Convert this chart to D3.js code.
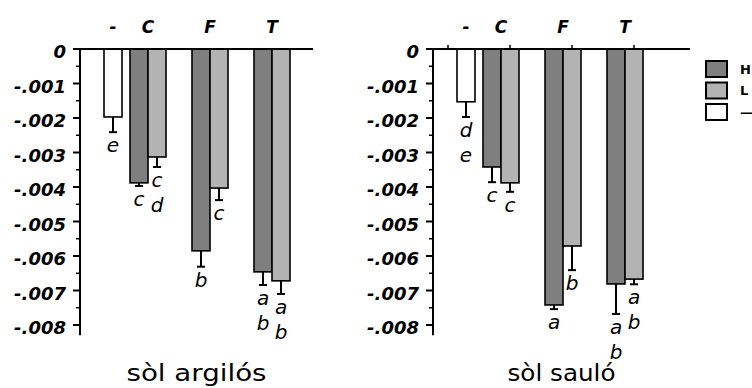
<!DOCTYPE html>
<html>
<head>
<meta charset="utf-8">
<script src="https://cdn.jsdelivr.net/npm/d3@7"></script>
<style>
  body { margin: 0; background: #fff; }
  svg { display: block; }
</style>
</head>
<body>
<svg id="chart" width="752" height="388"></svg>
<script>
// data
const categories = ["-", "C", "F", "T"];
const seriesNames = ["H", "L", "—"];
const soils = ["sòl argilós", "sòl sauló"];

const yTicks = [0, -0.001, -0.002, -0.003, -0.004, -0.005, -0.006, -0.007, -0.008];
const yTickLabels = ["0", "-.001", "-.002", "-.003", "-.004", "-.005", "-.006", "-.007", "-.008"];

// sòl argilós
const clayH = [null, -0.00388, -0.00585, -0.00646];
const clayL = [null, -0.00313, -0.00403, -0.00672];
const clayNone = [-0.00197, null, null, null];
const clayHErr = [null, 0.00009, 0.00046, 0.00038];
const clayLErr = [null, 0.00029, 0.00035, 0.00038];
const clayNoneErr = [0.00044, null, null, null];
const clayHLetters = [null, ["c"], ["b"], ["a", "b"]];
const clayLLetters = [null, ["c", "d"], ["c"], ["a", "b"]];
const clayNoneLetters = [["e"], null, null, null];

// sòl sauló
const sandH = [null, -0.00342, -0.00742, -0.00681];
const sandL = [null, -0.00388, -0.00571, -0.00667];
const sandNone = [-0.00153, null, null, null];
const sandHErr = [null, 0.00044, 0.00012, 0.00087];
const sandLErr = [null, 0.00026, 0.00070, 0.00015];
const sandNoneErr = [0.00044, null, null, null];
const sandHLetters = [null, ["c"], ["a"], ["a", "b"]];
const sandLLetters = [null, ["c"], ["b"], ["a", "b"]];
const sandNoneLetters = [["d", "e"], null, null, null];

const colors = { "H": "#7f7f7f", "L": "#b3b3b3", "—": "#ffffff" };
const font = "'DejaVu Sans', Verdana, sans-serif";

function buildRows(values, errs, letters) {
  const rows = [];
  seriesNames.forEach((s, si) => {
    categories.forEach((c, ci) => {
      const v = values[si][ci];
      if (v === null) return;
      rows.push({ cat: c, series: s, value: v, err: errs[si][ci], letters: letters[si][ci] });
    });
  });
  return rows;
}

const panels = [
  {
    title: soils[0], titleWidth: 140,
    rows: buildRows([clayH, clayL, clayNone], [clayHErr, clayLErr, clayNoneErr],
                    [clayHLetters, clayLLetters, clayNoneLetters]),
    axisX: 80, axisEnd: 313, bandStart: 68, topTicks: false
  },
  {
    title: soils[1], titleWidth: 108,
    rows: buildRows([sandH, sandL, sandNone], [sandHErr, sandLErr, sandNoneErr],
                    [sandHLetters, sandLLetters, sandNoneLetters]),
    axisX: 433, axisEnd: 690, bandStart: 421, topTicks: true
  }
];

const svg = d3.select("#chart");

const y = d3.scaleLinear().domain([0, -0.0083]).range([49, 335.35]);

panels.forEach(p => {
  const g = svg.append("g");

  const x = d3.scaleBand()
    .domain(categories)
    .range([p.bandStart, p.bandStart + 62 * 3 + 54])
    .paddingInner(8 / 62)
    .paddingOuter(0);

  const xs = d3.scaleBand()
    .domain(seriesNames)
    .range([0, x.bandwidth()]);

  // bars
  g.selectAll("rect.bar")
    .data(p.rows)
    .enter()
    .append("rect")
    .attr("class", "bar")
    .attr("x", d => x(d.cat) + xs(d.series))
    .attr("y", y(0))
    .attr("width", xs.bandwidth())
    .attr("height", d => y(d.value) - y(0))
    .style("fill", d => colors[d.series])
    .style("stroke", "#000")
    .style("stroke-width", 1.6);

  // error bars (downward only)
  const eb = g.selectAll("g.err")
    .data(p.rows)
    .enter()
    .append("g")
    .attr("class", "err")
    .attr("transform", d => "translate(" + (x(d.cat) + xs(d.series) + xs.bandwidth() / 2) + ",0)");

  eb.append("line")
    .attr("x1", 0).attr("x2", 0)
    .attr("y1", d => y(d.value))
    .attr("y2", d => y(d.value - d.err))
    .style("stroke", "#000")
    .style("stroke-width", 2);

  eb.append("line")
    .attr("x1", -4).attr("x2", 4)
    .attr("y1", d => y(d.value - d.err))
    .attr("y2", d => y(d.value - d.err))
    .style("stroke", "#000")
    .style("stroke-width", 2);

  // significance letters
  eb.each(function (d) {
    const sel = d3.select(this);
    d.letters.forEach((l, i) => {
      sel.append("text")
        .text(l)
        .attr("x", 0)
        .attr("y", y(d.value - d.err) + 20 + i * 25)
        .attr("text-anchor", "middle")
        .style("font-family", font)
        .style("font-style", "italic")
        .style("font-size", "20px")
        .style("fill", "#000");
    });
  });

  // horizontal zero line
  g.append("line")
    .attr("x1", p.axisX).attr("x2", p.axisEnd)
    .attr("y1", y(0)).attr("y2", y(0))
    .style("stroke", "#000")
    .style("stroke-width", 2);

  if (p.topTicks) {
    categories.forEach(c => {
      g.append("line")
        .attr("x1", x(c) + x.bandwidth() / 2).attr("x2", x(c) + x.bandwidth() / 2)
        .attr("y1", y(0)).attr("y2", y(0) - 4)
        .style("stroke", "#000")
        .style("stroke-width", 1.5);
    });
  }

  // category labels, centred over the bars that are present
  categories.forEach(c => {
    const present = p.rows.filter(r => r.cat === c);
    const x0 = d3.min(present, r => x(c) + xs(r.series));
    const x1 = d3.max(present, r => x(c) + xs(r.series) + xs.bandwidth());
    g.append("text")
      .text(c)
      .attr("x", (x0 + x1) / 2)
      .attr("y", 33)
      .attr("text-anchor", "middle")
      .style("font-family", font)
      .style("font-style", "italic")
      .style("font-weight", "bold")
      .style("font-size", "17px");
  });

  // y axis
  const yAxis = g.append("g").attr("transform", "translate(" + p.axisX + ",0)");
  yAxis.append("line")
    .attr("x1", 0).attr("x2", 0)
    .attr("y1", y(0) - 1).attr("y2", y.range()[1])
    .style("stroke", "#000")
    .style("stroke-width", 2);

  const minor = d3.range(0, 8).map(i => yTicks[i] - 0.0005);
  yAxis.selectAll("line.minor")
    .data(minor)
    .enter()
    .append("line")
    .attr("class", "minor")
    .attr("x1", -4).attr("x2", 0)
    .attr("y1", d => y(d)).attr("y2", d => y(d))
    .style("stroke", "#000")
    .style("stroke-width", 1.5);

  yAxis.selectAll("line.major")
    .data(yTicks)
    .enter()
    .append("line")
    .attr("class", "major")
    .attr("x1", -7).attr("x2", 0)
    .attr("y1", d => y(d)).attr("y2", d => y(d))
    .style("stroke", "#000")
    .style("stroke-width", 2);

  yAxis.selectAll("text.tick")
    .data(yTicks)
    .enter()
    .append("text")
    .attr("class", "tick")
    .text((d, i) => yTickLabels[i])
    .attr("x", -14)
    .attr("y", d => y(d))
    .attr("dy", "0.5em")
    .attr("text-anchor", "end")
    .style("font-family", font)
    .style("font-style", "italic")
    .style("font-weight", "bold")
    .style("font-size", "18px");

  // soil title
  g.append("text")
    .text(p.title)
    .attr("x", (p.axisX + p.axisEnd) / 2)
    .attr("y", 381)
    .attr("text-anchor", "middle")
    .attr("textLength", p.titleWidth)
    .attr("lengthAdjust", "spacingAndGlyphs")
    .style("font-family", font)
    .style("font-size", "23px");
});

// legend
const legend = svg.append("g").attr("transform", "translate(706,61)");
seriesNames.forEach((s, i) => {
  legend.append("rect")
    .attr("x", 0).attr("y", i * 21.5)
    .attr("width", 21).attr("height", 16)
    .style("fill", colors[s])
    .style("stroke", "#000")
    .style("stroke-width", 2);
  legend.append("text")
    .text(s)
    .attr("x", 34).attr("y", i * 21.5 + 8)
    .attr("dy", "0.35em")
    .style("font-family", font)
    .style("font-weight", "bold")
    .style("font-size", "13px");
});
</script>
</body>
</html>
